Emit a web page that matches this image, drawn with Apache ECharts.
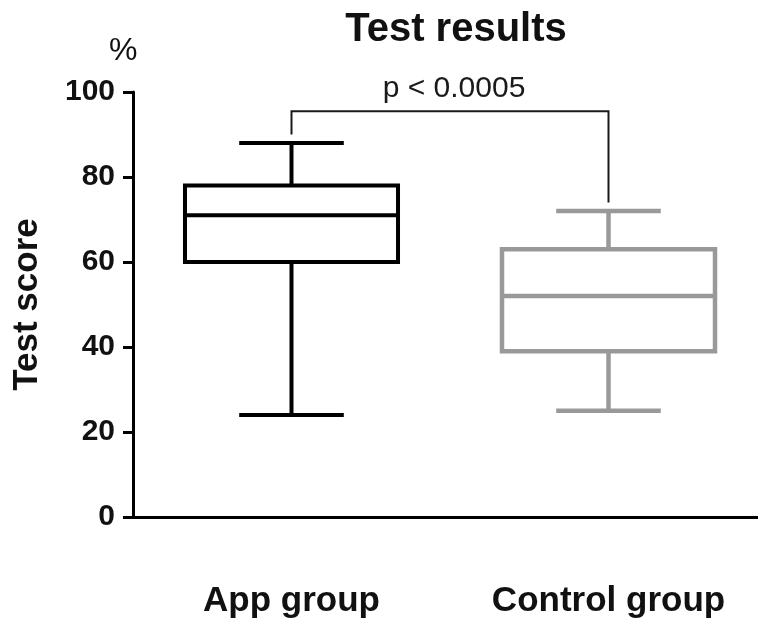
<!DOCTYPE html>
<html>
<head>
<meta charset="utf-8">
<script src="https://cdn.jsdelivr.net/npm/echarts@6/dist/echarts.min.js"></script>
<style>
  html, body { margin: 0; padding: 0; background: #fff; }
  #chart { width: 758px; height: 618px; }
</style>
</head>
<body>
<div id="chart"></div>
<script>
// ---- Data ----
const categories = ['App group', 'Control group'];
const minVals    = [24, 25];
const q1Vals     = [60, 39];
const medianVals = [71, 52];
const q3Vals     = [78, 63];
const maxVals    = [88, 72];

const yTicks = [0, 20, 40, 60, 80, 100];

// significance bracket (in data units)
const bracketPair = [0, 1];
const bracketTop = 95.5;
const bracketEnds = [90, 74];
const pLabel = 'p < 0.0005';

// ---- Styles ----
const FONT = "'Liberation Sans', Arial, Helvetica, sans-serif";
const boxColors = ['#000000', '#999999'];

const chart = echarts.init(document.getElementById('chart'), null, { renderer: 'canvas' });

const boxData = categories.map((c, i) => [i, minVals[i], q1Vals[i], medianVals[i], q3Vals[i], maxVals[i]]);

function renderBox(params, api) {
  const x = api.value(0);
  const band = api.size([1, 0])[0];
  const boxHalf = band * 0.336;
  const capHalf = band * 0.165;
  const pMin = api.coord([x, api.value(1)]);
  const pQ1 = api.coord([x, api.value(2)]);
  const pMed = api.coord([x, api.value(3)]);
  const pQ3 = api.coord([x, api.value(4)]);
  const pMax = api.coord([x, api.value(5)]);
  const cx = pMed[0];
  const color = boxColors[params.dataIndex];
  const lw = params.dataIndex === 0 ? 4 : 4.5;
  const st = { stroke: color, lineWidth: lw, fill: null };
  return {
    type: 'group',
    children: [
      { type: 'rect', shape: { x: cx - boxHalf, y: pQ3[1], width: boxHalf * 2, height: pQ1[1] - pQ3[1] }, style: { stroke: color, lineWidth: lw, fill: '#fff' } },
      { type: 'line', shape: { x1: cx - boxHalf, y1: pMed[1], x2: cx + boxHalf, y2: pMed[1] }, style: st },
      { type: 'line', shape: { x1: cx, y1: pQ3[1], x2: cx, y2: pMax[1] }, style: st },
      { type: 'line', shape: { x1: cx, y1: pQ1[1], x2: cx, y2: pMin[1] }, style: st },
      { type: 'line', shape: { x1: cx - capHalf, y1: pMax[1], x2: cx + capHalf, y2: pMax[1] }, style: st },
      { type: 'line', shape: { x1: cx - capHalf, y1: pMin[1], x2: cx + capHalf, y2: pMin[1] }, style: st }
    ]
  };
}

function renderBracket(params, api) {
  const a = api.coord([api.value(0), api.value(3)]);
  const b = api.coord([api.value(1), api.value(4)]);
  const topA = api.coord([api.value(0), api.value(2)]);
  const topB = api.coord([api.value(1), api.value(2)]);
  return {
    type: 'group',
    children: [
      { type: 'polyline', shape: { points: [a, topA, topB, b] }, style: { stroke: '#1a1a1a', lineWidth: 2, fill: null } },
      { type: 'text', style: { text: pLabel, x: (topA[0] + topB[0]) / 2 + 4, y: topA[1] - 22, align: 'center', verticalAlign: 'middle', font: '30px ' + FONT, fill: '#1a1a1a' } }
    ]
  };
}

const option = {
  backgroundColor: '#ffffff',
  animation: false,
  title: {
    text: 'Test results',
    left: 451,
    top: 5,
    textAlign: 'center',
    textStyle: { fontFamily: FONT, fontSize: 40, fontWeight: 'bold', color: '#111' }
  },
  graphic: [
    { type: 'text', left: 109, top: 35, style: { text: '%', font: '32px ' + FONT, fill: '#111' } }
  ],
  grid: { left: 133, top: 92, width: 634, height: 425, containLabel: false, outerBoundsMode: 'none' },
  xAxis: {
    type: 'category',
    data: categories,
    boundaryGap: true,
    axisLine: { lineStyle: { color: '#000', width: 3 } },
    axisTick: { alignWithLabel: true, length: 10, lineStyle: { color: '#000', width: 3 } },
    axisLabel: { margin: 67, fontFamily: FONT, fontSize: 35, fontWeight: 'bold', color: '#111' },
    splitLine: { show: false }
  },
  yAxis: {
    type: 'value',
    min: yTicks[0],
    max: yTicks[yTicks.length - 1],
    interval: yTicks[1] - yTicks[0],
    name: 'Test score',
    nameLocation: 'middle',
    nameGap: 88,
    nameRotate: 90,
    nameTextStyle: { fontFamily: FONT, fontSize: 35, fontWeight: 'bold', color: '#111' },
    axisLine: { show: true, lineStyle: { color: '#000', width: 3 } },
    axisTick: { show: true, length: 10, lineStyle: { color: '#000', width: 3 } },
    axisLabel: { margin: 18, fontFamily: FONT, fontSize: 30, fontWeight: 'bold', color: '#111' },
    splitLine: { show: false }
  },
  series: [
    { type: 'custom', name: 'box', renderItem: renderBox, data: boxData, encode: { x: 0, y: [1, 2, 3, 4, 5] }, clip: false, z: 3 },
    { type: 'custom', name: 'bracket', renderItem: renderBracket, data: [[bracketPair[0], bracketPair[1], bracketTop, bracketEnds[0], bracketEnds[1]]], encode: { x: [0, 1], y: [2, 3, 4] }, clip: false, z: 4 }
  ]
};

chart.setOption(option);
</script>
</body>
</html>
